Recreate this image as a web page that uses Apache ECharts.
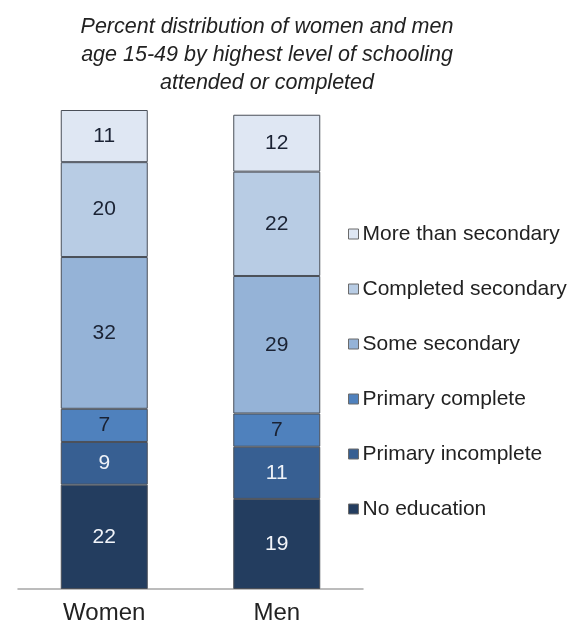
<!DOCTYPE html>
<html>
<head>
<meta charset="utf-8">
<script src="https://cdn.jsdelivr.net/npm/echarts@6/dist/echarts.min.js"></script>
<style>
html,body{margin:0;padding:0;background:#fff;}
#chart{width:573px;height:626px;}
</style>
</head>
<body>
<div id="chart"></div>
<script>
const categories = ['Women', 'Men'];
const seriesNames = ['No education', 'Primary incomplete', 'Primary complete', 'Some secondary', 'Completed secondary', 'More than secondary'];
const noEducation = [22, 19];
const primaryIncomplete = [9, 11];
const primaryComplete = [7, 7];
const someSecondary = [32, 29];
const completedSecondary = [20, 22];
const moreThanSecondary = [11, 12];
const titleText = 'Percent distribution of women and men\nage 15-49 by highest level of schooling\nattended or completed';

const seriesValues = [noEducation, primaryIncomplete, primaryComplete, someSecondary, completedSecondary, moreThanSecondary];
const colors = ['#233d5f', '#375f92', '#4f81bd', '#95b3d7', '#b8cce4', '#dfe7f3'];
const labelColors = ['#f2f5fa', '#eef2f8', '#1a2233', '#1a2233', '#1a2233', '#1a2233'];

const chart = echarts.init(document.getElementById('chart'));
chart.setOption({
  animation: false,
  backgroundColor: '#ffffff',
  title: {
    text: titleText,
    left: 262,
    top: 8,
    textAlign: 'center',
    textStyle: {
      fontFamily: 'Liberation Sans, Arial, sans-serif',
      fontStyle: 'italic',
      fontWeight: 'normal',
      fontSize: 21.5,
      lineHeight: 28,
      color: '#222222'
    }
  },
  legend: {
    orient: 'vertical',
    left: 343,
    top: 218,
    itemWidth: 10,
    itemHeight: 10,
    itemGap: 33,
    icon: 'rect',
    data: seriesNames.slice().reverse(),
    textStyle: {
      fontFamily: 'Liberation Sans, Arial, sans-serif',
      fontSize: 21,
      lineHeight: 22,
      color: '#222222',
      padding: [0, 0, 0, -1]
    },
    itemStyle: { borderColor: '#6b6b6b', borderWidth: 1 }
  },
  grid: { left: 18, right: 210, top: 110, bottom: 37, containLabel: false },
  xAxis: {
    type: 'category',
    data: categories,
    axisLine: { lineStyle: { color: '#a6a6a6', width: 1.5 } },
    axisTick: { show: false },
    axisLabel: {
      margin: 12,
      fontFamily: 'Liberation Sans, Arial, sans-serif',
      fontSize: 24,
      color: '#222222'
    }
  },
  yAxis: {
    type: 'value',
    min: 0,
    max: 101,
    show: false,
    splitLine: { show: false }
  },
  series: seriesNames.map((name, i) => ({
    name: name,
    type: 'bar',
    stack: 'total',
    barWidth: 87,
    data: seriesValues[i],
    itemStyle: { color: colors[i], borderColor: '#4a4f58', borderWidth: 1 },
    label: {
      show: true,
      position: 'inside',
      fontFamily: 'Liberation Sans, Arial, sans-serif',
      fontSize: 21,
      color: labelColors[i]
    }
  }))
});
</script>
</body>
</html>
